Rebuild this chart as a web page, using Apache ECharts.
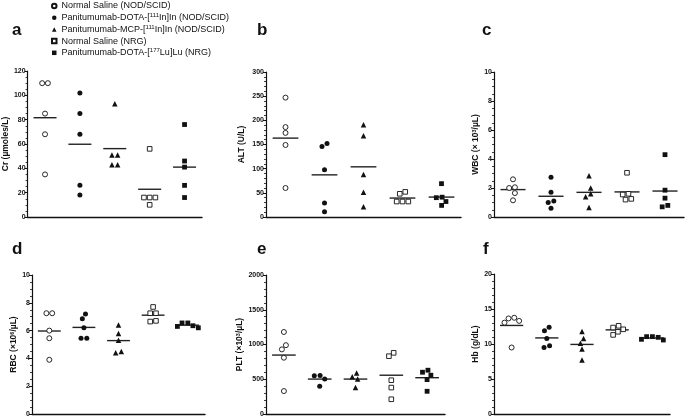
<!DOCTYPE html>
<html>
<head>
<meta charset="utf-8">
<script src="https://cdn.jsdelivr.net/npm/echarts@6/dist/echarts.min.js"></script>
<style>html,body{margin:0;padding:0;background:#fff}#c{width:685px;height:418px}</style>
</head>
<body>
<div id="c"></div>
<script>
// ---------- data ----------
const groupNames = [
  "Normal Saline (NOD/SCID)",
  "Panitumumab-DOTA-[111In]In (NOD/SCID)",
  "Panitumumab-MCP-[111In]In (NOD/SCID)",
  "Normal Saline (NRG)",
  "Panitumumab-DOTA-[177Lu]Lu (NRG)"
];
const legendLabels = [
  "Normal Saline (NOD/SCID)",
  "Panitumumab-DOTA-[{s|111}In]In (NOD/SCID)",
  "Panitumumab-MCP-[{s|111}In]In (NOD/SCID)",
  "Normal Saline (NRG)",
  "Panitumumab-DOTA-[{s|177}Lu]Lu (NRG)"
];
const panelLetters = ["a", "b", "c", "d", "e", "f"];
const axisTitles = [
  "Cr (\u00b5moles/L)",
  "ALT (U/L)",
  "WBC (\u00d7 10{s|3}/\u00b5L)",
  "RBC (\u00d710{s|6}/\u00b5L)",
  "PLT (\u00d710{s|3}/\u00b5L)",
  "Hb (g/dL)"
];
const yMax = [120, 300, 10, 10, 2000, 20];
const yStep = [20, 50, 2, 2, 500, 5];
const yMinorSplit = [4, 5, 4, 4, 5, 5];

const crValues  = [[110,110,85,68,35],[102,85,68,26,18],[93,51,51,43,43],[56,16,16,16,10],[76,46,41,26,16]];
const altValues = [[247,186,174,149,60],[152,146,98,29,11],[191,168,88,51,21],[52,48,32,32,32],[69,41,40,32,24]];
const wbcValues = [[2.6,2.05,2.0,1.65,1.15],[2.75,1.7,1.1,1.0,0.6],[2.85,2.0,1.6,1.4,0.65],[3.05,1.6,1.55,1.25,1.2],[4.3,1.85,1.3,0.8,0.7]];
const rbcValues = [[7.25,7.25,6.0,5.45,3.9],[7.2,6.85,6.2,5.45,5.45],[6.4,5.8,5.3,4.5,4.4],[7.7,7.25,7.25,6.7,6.65],[6.55,6.55,6.35,6.3,6.2]];
const pltValues = [[1180,990,930,810,330],[555,550,505,400],[590,535,505,380],[880,832,486,380,212],[630,601,558,495,327]];
const hbValues  = [[13.75,13.65,13.3,13.05,9.5],[12.4,11.9,10.8,9.75,9.5],[11.8,10.8,10.1,9.3,7.7],[12.6,12.35,12.1,11.75,11.3],[11.05,11.05,10.95,10.67,10.57]];
const panelValues = [crValues, altValues, wbcValues, rbcValues, pltValues, hbValues];

// ---------- layout / style ----------
const grids = [
  {left: 25,  top: 71,  width: 177, height: 146},
  {left: 266, top: 72,  width: 195, height: 145},
  {left: 494, top: 72,  width: 190, height: 145},
  {left: 32,  top: 275, width: 173, height: 139},
  {left: 266, top: 275, width: 179, height: 139},
  {left: 494, top: 274, width: 176, height: 140}
];
const nameGaps = [12.5, 19.5, 11.5, 6.5, 15.5, 11.5];
const letterPos = [[12,31],[257,31],[482,31],[12,250],[257,250],[483,250]];
const FONT = "Liberation Sans, Arial, sans-serif";
const INK = '#111';
const symbolDefs = [
  {symbol: 'circle',   size: 5,   style: {color: '#fff', borderColor: INK, borderWidth: 0.9, opacity: 1}},
  {symbol: 'circle',   size: 5,   style: {color: INK, opacity: 1}},
  {symbol: 'triangle', size: 5.5, style: {color: INK, opacity: 1}},
  {symbol: 'rect',     size: 4.6, style: {color: '#fff', borderColor: INK, borderWidth: 0.9, opacity: 1}},
  {symbol: 'rect',     size: 4.8, style: {color: INK, opacity: 1}}
];

// Beeswarm-style horizontal spread (pixel space) so that points do not overlap
function swarm(vals, pxPerUnit, d) {
  const placed = [];
  vals.forEach(v => {
    const y = v * pxPerUnit;
    const cands = [0];
    placed.forEach(p => {
      const dy = Math.abs(p.y - y);
      if (dy < d) {
        const dx = Math.sqrt(d * d - dy * dy);
        cands.push(p.x - dx, p.x + dx);
      }
    });
    cands.sort((a, b) => Math.abs(a) - Math.abs(b) || a - b);
    const x = cands.find(c => placed.every(p => Math.hypot(p.x - c, p.y - y) >= d - 1e-6));
    placed.push({x: x, y: y});
  });
  const n = placed.length, parent = placed.map((_, i) => i);
  const find = i => parent[i] === i ? i : (parent[i] = find(parent[i]));
  for (let i = 0; i < n; i++) for (let j = i + 1; j < n; j++) {
    if (Math.hypot(placed[i].x - placed[j].x, placed[i].y - placed[j].y) < d * 1.05) parent[find(i)] = find(j);
  }
  const sums = {};
  placed.forEach((p, i) => { const r = find(i); sums[r] = sums[r] || {s: 0, c: 0}; sums[r].s += p.x; sums[r].c++; });
  return placed.map((p, i) => { const r = sums[find(i)]; return p.x - r.s / r.c; });
}

const xAxes = [], yAxes = [], series = [], graphics = [];
grids.forEach((g, k) => {
  xAxes.push({
    gridIndex: k, type: 'value', min: 0.5, max: 5.5,
    axisLine: {show: true, onZero: false, lineStyle: {color: INK, width: 1.4}},
    axisTick: {show: false}, axisLabel: {show: false}, splitLine: {show: false}
  });
  yAxes.push({
    gridIndex: k, type: 'value', min: 0, max: yMax[k], interval: yStep[k],
    name: axisTitles[k], nameLocation: 'middle', nameGap: nameGaps[k], nameRotate: 90,
    nameTextStyle: {fontFamily: FONT, fontSize: 8.5, fontWeight: 'bold', color: INK,
      rich: {s: {fontFamily: FONT, fontSize: 5.5, fontWeight: 'bold', color: INK, verticalAlign: 'top', lineHeight: 6}}},
    axisLine: {show: true, lineStyle: {color: INK, width: 1.2}},
    axisTick: {show: true, inside: false, length: 3, lineStyle: {color: INK, width: 1}},
    minorTick: {show: true, splitNumber: yMinorSplit[k], length: 2, lineStyle: {color: INK, width: 0.8}},
    axisLabel: {fontFamily: FONT, fontSize: 7, fontWeight: 'bold', color: INK, margin: 2,
      formatter: v => String(v)},
    splitLine: {show: false}
  });
  const vals = panelValues[k];
  const pxPerUnit = g.height / yMax[k];
  const catPx = g.width / 5;
  const means = [];
  vals.forEach((grp, gi) => {
    const offs = swarm(grp, pxPerUnit, 5.8);
    const def = symbolDefs[gi];
    series.push({
      type: 'scatter', name: groupNames[gi], xAxisIndex: k, yAxisIndex: k,
      symbol: def.symbol, symbolSize: def.size, itemStyle: def.style,
      emphasis: {disabled: true}, z: 3,
      data: grp.map((v, i) => [gi + 1 + offs[i] / catPx, v])
    });
    means.push([gi + 1, grp.reduce((a, b) => a + b, 0) / grp.length]);
  });
  series.push({
    type: 'custom', name: 'mean' + k, xAxisIndex: k, yAxisIndex: k, z: 2, silent: true,
    data: means,
    renderItem: function (params, api) {
      const x = api.value(0), m = api.value(1);
      const p1 = api.coord([x - 0.33, m]), p2 = api.coord([x + 0.33, m]);
      return {type: 'line', shape: {x1: p1[0], y1: p1[1], x2: p2[0], y2: p2[1]},
        style: {stroke: '#222', lineWidth: 1.4}};
    }
  });
  graphics.push({
    type: 'text', left: letterPos[k][0], top: letterPos[k][1] - 9,
    style: {text: panelLetters[k], font: 'bold 17px ' + FONT, fill: INK}
  });
});

const chart = echarts.init(document.getElementById('c'), null, {renderer: 'canvas'});
chart.setOption({
  animation: false,
  backgroundColor: '#fff',
  grid: grids.map(g => Object.assign({containLabel: false}, g)),
  xAxis: xAxes,
  yAxis: yAxes,
  legend: {
    data: groupNames, orient: 'vertical', left: 51, top: 1,
    itemWidth: 4.5, itemHeight: 4.5, itemGap: 1.7, padding: 0,
    selectedMode: false,
    formatter: name => legendLabels[groupNames.indexOf(name)],
    textStyle: {fontFamily: FONT, fontSize: 9, color: INK, lineHeight: 10,
      rich: {s: {fontFamily: FONT, fontSize: 6, color: INK, verticalAlign: 'top', lineHeight: 7}}}
  },
  graphic: graphics,
  series: series
});
</script>
</body>
</html>
